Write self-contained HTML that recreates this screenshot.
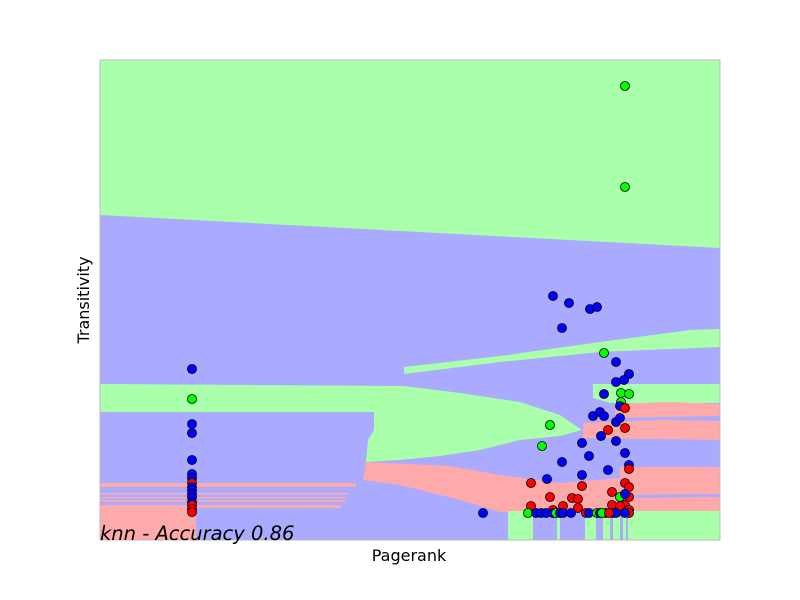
<!DOCTYPE html>
<html><head><meta charset="utf-8"><style>
body{margin:0;background:#fff;}
svg{display:block;font-family:"DejaVu Sans","Liberation Sans",sans-serif;}
</style></head><body>
<svg id="chart" width="800" height="600">
<rect x="0" y="0" width="800" height="600" fill="#fff"/>
<g id="regions">
<rect x="100" y="60" width="620" height="480" fill="#aaaaff"/>
<polygon fill="#aaffaa" points="100,60 720,60 720,248 100,215"/>
<polygon fill="#aaffaa" points="100,384 404,386 460,393 520,402 560,415 582,430 560,436 520,440 480,450 440,456 400,460 366,462 368,440 374,430 374,412 100,412"/>
<polygon fill="#aaffaa" points="404,367 500,356 600,342 690,330 720,329 720,347 600,352 500,362 404,374"/>
<polygon fill="#aaffaa" points="593,384 720,384 720,403 610,403 593,398"/>
<polygon fill="#ffaaaa" points="615,404 670,402 720,404 720,416 615,418"/>
<polygon fill="#ffaaaa" points="583,423 660,420 720,421 720,440 583,438"/>
<polygon fill="#ffaaaa" points="366,462 450,466 500,475 560,483 620,478 620,467 720,467 720,494 620,495 620,510 500,512 460,500 400,485 363,480"/>
<polygon fill="#ffaaaa" points="605,498 720,497 720,511 605,511"/>
<rect x="100" y="505" width="96" height="35" fill="#ffaaaa"/>
<rect x="100" y="483" width="256" height="4" fill="#ffaaaa"/>
<rect x="100" y="493" width="248" height="1.5" fill="#ffaaaa"/>
<rect x="100" y="497" width="246" height="1.5" fill="#ffaaaa"/>
<rect x="100" y="500" width="246" height="1.5" fill="#ffaaaa"/>
<rect x="100" y="505" width="241" height="3" fill="#ffaaaa"/>
<rect x="508" y="511" width="212" height="29" fill="#aaffaa"/>
<rect x="533" y="511" width="24" height="29" fill="#aaaaff"/>
<rect x="560" y="511" width="25" height="29" fill="#aaaaff"/>
<rect x="596" y="511" width="7" height="29" fill="#aaaaff"/>
<rect x="610" y="511" width="3" height="29" fill="#aaaaff"/>
<rect x="620" y="511" width="3" height="29" fill="#aaaaff"/>
<rect x="626" y="511" width="2" height="29" fill="#aaaaff"/>
</g>
<g id="points"></g>
<rect x="100" y="60" width="620" height="480" fill="none" stroke="#bbb" stroke-width="1"/>
<text x="100" y="540" font-size="19.5" font-style="italic" fill="#000">knn - Accuracy 0.86</text>
<text x="409" y="561" font-size="16" text-anchor="middle">Pagerank</text>
<text transform="translate(89,300) rotate(-90)" font-size="16" text-anchor="middle">Transitivity</text>
</svg>
<script>
// data coordinates: x,y in [0,1] (fraction of plot area), class 0=blue 1=green 2=red
const px=[625,625,553,569,590,597,562,604,616,629,624,616,604,621,629,621,620,625,593,600,604,616,620,608,625,550,542,601,616,582,589,625,562,629,629,608,582,547,531,625,582,629,550,612,629,620,625,572,578,531,563,612,625,553,578,629,620,528,536,541,546,553,556,560,563,571,586,589,597,600,606,602,613,616,609,629,625,483,192,192,192,192,192,192,192,192,192,192,192,192,192,192,192,192];
const py=[86,187,296,303,309,307,328,353,362,374,380,382,394,393,394,402,406,408,416,412,416,422,418,430,428,425,446,436,441,443,456,453,462,465,469,470,475,479,483,483,486,487,497,492,497,497,494,498,499,506,506,505,505,510,508,510,506,513,513,513,513,513,513,513,513,513,513,513,513,513,513,513,513,513,513,513,513,513,369,399,424,433,460,474,478,483,487,490,494,497,502,505,509,512];
const cls=[1,1,0,0,0,0,0,1,0,0,0,0,0,1,1,1,0,2,0,0,0,0,0,2,2,1,1,0,0,0,0,0,0,0,2,0,0,0,2,2,2,2,2,2,2,1,0,2,2,2,2,2,2,2,2,2,2,1,0,0,0,0,1,0,0,0,2,0,1,0,0,1,0,0,2,2,0,0,0,1,0,0,0,0,0,2,0,0,0,0,0,2,2,2];
const xData=px.map(v=>(v-100)/620), yData=py.map(v=>(540-v)/480);
const colors=['#0000ff','#00ff00','#ff0000'];
function sx(v){return 100+v*620;}
function sy(v){return 540-v*480;}
const g=document.getElementById('points');
for(let i=0;i<xData.length;i++){
  const c=document.createElementNS('http://www.w3.org/2000/svg','circle');
  c.setAttribute('cx',sx(xData[i]));c.setAttribute('cy',sy(yData[i]));c.setAttribute('r',4.5);
  c.setAttribute('fill',colors[cls[i]]);c.setAttribute('stroke','#000');c.setAttribute('stroke-width',0.8);
  
  
  g.appendChild(c);
}
</script>
</body></html>
